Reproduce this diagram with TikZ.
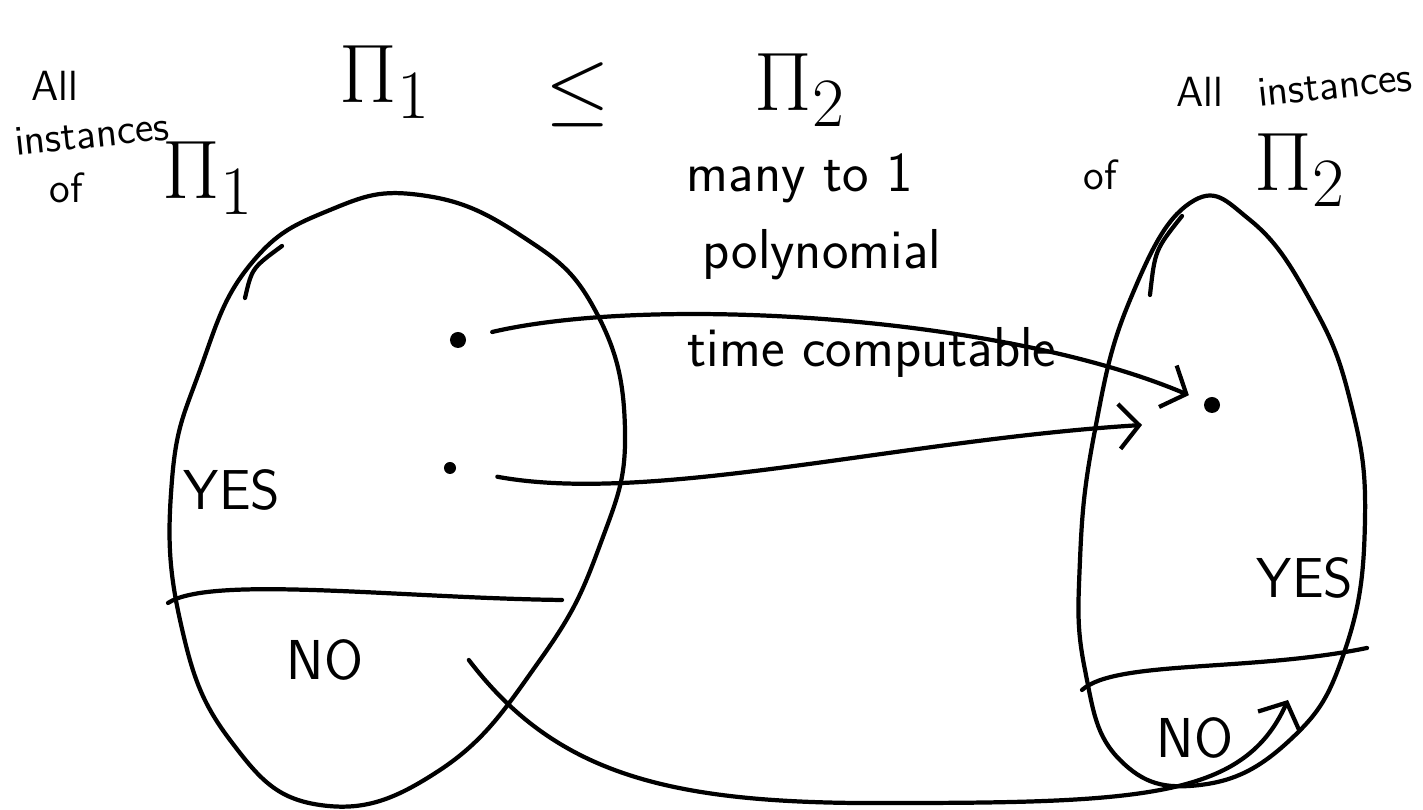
\documentclass[tikz,border=0pt]{standalone}
\usepackage{amsmath,amssymb}
\usetikzlibrary{arrows.meta,positioning,calc}

\begin{document}
\begin{tikzpicture}[x=0.01cm,y=-0.01cm,line width=1.2pt,line cap=round,
    dot/.style={circle,fill,inner sep=0pt,minimum size=1.6mm},
    hand/.style={font=\sffamily\fontsize{16}{18}\selectfont,inner sep=1pt},
    tag/.style={font=\sffamily\fontsize{12}{14}\selectfont,inner sep=0pt},
    big/.style={font=\Huge,scale=0.95,inner sep=1pt},
    redu/.style={-{Straight Barb[length=2mm,width=4.5mm]}}]
  \useasboundingbox (0,0) rectangle (1423,810);
  % title
  \node[big] (pa) at (385,82) {$\Pi_1$};
  \node[big] (le) at (578,95) {$\leq$};
  \node[big] (pb) at (800,90) {$\Pi_2$};
  % labels of the two sets
  \node[tag] (allL) at (55,86) {All};
  \node[tag,rotate=6] (instL) at (92,134) {instances};
  \node[tag] (ofL) at (66,188) {of};
  \node[big] (piL) at (208,178) {$\Pi_1$};
  \node[tag] (allR) at (1200,92) {All};
  \node[tag,rotate=6] (instR) at (1335,85) {instances};
  \node[tag] (ofR) at (1100,175) {of};
  \node[big] (piR) at (1300,170) {$\Pi_2$};
  % the two sets
  \draw plot[smooth cycle,tension=0.75] coordinates {(420,195) (520,235) (595,310)
    (625,430) (600,545) (540,660) (440,770) (320,805) (230,740) (180,620)
    (172,480) (200,370) (250,265) (330,210)};
  \draw (245,298) .. controls (252,268) .. (282,246);
  \draw plot[smooth cycle,tension=0.75] coordinates {(1190,203) (1250,220) (1310,300)
    (1350,400) (1365,520) (1345,650) (1290,740) (1200,785) (1120,760)
    (1085,670) (1080,560) (1095,430) (1130,300)};
  \draw (1150,295) .. controls (1155,250) .. (1182,216);
  \draw (168,603) .. controls (210,575) and (400,598) .. (562,600);
  \draw (1082,690) .. controls (1115,660) and (1250,672) .. (1367,648);
  \node[hand] (yesL) at (232,490) {YES};
  \node[hand] (noL) at (325,660) {NO};
  \node[hand] (yesR) at (1305,578) {YES};
  \node[hand] (noR) at (1195,738) {NO};
  % instances and the map
  \node[dot] (a1) at (458,340) {};
  \node[dot,minimum size=1.2mm] (a2) at (450,468) {};
  \node[dot] (b1) at (1212,405) {};
  \coordinate (t2) at (1142,425);
  \coordinate[right=10mm of noL] (s3);
  \coordinate (t3) at (1288,700);
  \draw[redu,shorten <=2.5mm,shorten >=1.5mm] (a1) .. controls (650,295) and (1000,315) .. (b1);
  \draw[redu,shorten <=4mm] (a2) .. controls (650,505) and (900,440) .. (t2);
  \draw[redu] (s3) .. controls (560,780) and (680,805) .. (900,803)
    .. controls (1150,803) and (1245,795) .. (t3);
  \node[hand] (many) at (800,178) {many to 1};
  \node[hand] (poly) at (822,255) {polynomial};
  \node[hand] (comp) at (872,352) {time computable};
\end{tikzpicture}
\end{document}
